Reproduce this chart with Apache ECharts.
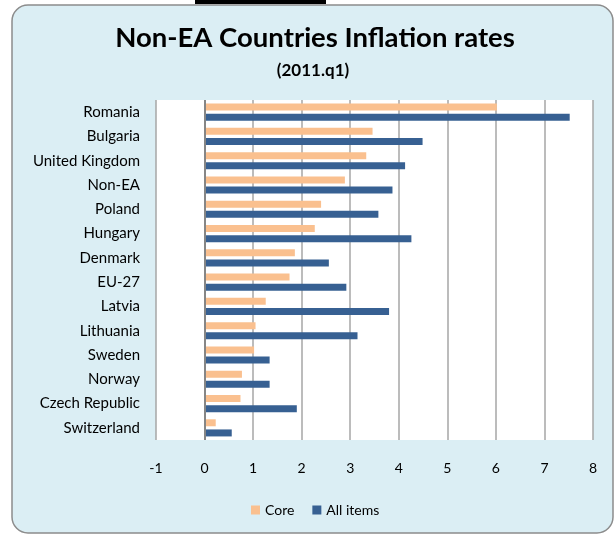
<!DOCTYPE html>
<html>
<head>
<meta charset="utf-8">
<script src="https://cdn.jsdelivr.net/npm/echarts@6/dist/echarts.min.js"></script>
<style>
  html, body { margin: 0; padding: 0; background: #fff; }
  #chart { width: 614px; height: 534px; }
</style>
</head>
<body>
<div id="chart"></div>
<script>
// categories top to bottom
const countries = ['Romania', 'Bulgaria', 'United Kingdom', 'Non-EA', 'Poland', 'Hungary', 'Denmark',
    'EU-27', 'Latvia', 'Lithuania', 'Sweden', 'Norway', 'Czech Republic', 'Switzerland'];
const coreRates = [6.02, 3.46, 3.33, 2.89, 2.40, 2.27, 1.86, 1.75, 1.26, 1.05, 1.02, 0.77, 0.74, 0.23];
const allItemsRates = [7.52, 4.49, 4.13, 3.87, 3.58, 4.26, 2.56, 2.92, 3.80, 3.15, 1.34, 1.34, 1.90, 0.56];
const seriesNames = ['Core', 'All items'];

const FONT = 'Lato, "Open Sans", sans-serif';

let myChart = echarts.init(document.getElementById('chart'));

let option = {
    animation: false,
    textStyle: {fontFamily: FONT},
    graphic: [
        {   // chart frame
            type: 'rect', z: -10,
            shape: {x: 12, y: 5, width: 601, height: 528, r: 16},
            style: {fill: '#DBEEF4', stroke: '#8c8c8c', lineWidth: 1.5}
        },
        {   // cut-off underline above the frame
            type: 'rect', z: -10,
            shape: {x: 195, y: 0, width: 131, height: 4},
            style: {fill: '#000'}
        },
        {
            type: 'text', z: 10,
            style: {
                text: 'Non-EA Countries Inflation rates', x: 315, y: 38,
                textAlign: 'center', textVerticalAlign: 'middle',
                font: 'bold 27.5px ' + FONT, fill: '#000'
            }
        },
        {
            type: 'text', z: 10,
            style: {
                text: '(2011.q1)', x: 313, y: 71,
                textAlign: 'center', textVerticalAlign: 'middle',
                font: 'bold 17px ' + FONT, fill: '#000'
            }
        }
    ],
    legend: {
        data: seriesNames,
        bottom: 12,
        left: 246,
        icon: 'rect',
        itemWidth: 9,
        itemHeight: 9,
        itemGap: 18,
        textStyle: {fontSize: 14, color: '#000', fontFamily: FONT}
    },
    grid: {
        left: 156, right: 21, top: 100, bottom: 94,
        show: true, backgroundColor: '#fff', borderWidth: 0,
        containLabel: false
    },
    xAxis: {
        type: 'value',
        min: -1, max: 8, interval: 1,
        axisLine: {show: false},
        axisTick: {show: false},
        axisLabel: {fontSize: 14, color: '#000', margin: 21, fontFamily: FONT},
        splitLine: {show: true, lineStyle: {color: '#a6a6a6', width: 1.5}}
    },
    yAxis: {
        type: 'category',
        data: countries,
        inverse: true,
        axisLine: {show: false, onZero: false},
        axisTick: {show: false},
        axisLabel: {fontSize: 15, color: '#000', margin: 16, fontFamily: FONT},
        splitLine: {show: false}
    },
    series: [
        {
            name: seriesNames[0],
            type: 'bar',
            data: coreRates,
            barWidth: 7,
            barGap: '45%',
            itemStyle: {color: '#FAC08F'},
            markLine: {
                silent: true,
                symbol: 'none',
                label: {show: false},
                lineStyle: {color: '#868686', width: 2, type: 'solid'},
                data: [{xAxis: 0}]
            }
        },
        {
            name: seriesNames[1],
            type: 'bar',
            data: allItemsRates,
            barWidth: 7,
            itemStyle: {color: '#376092'}
        }
    ]
};

if (option && typeof option === "object") {
    myChart.setOption(option, true);
}
</script>
</body>
</html>
